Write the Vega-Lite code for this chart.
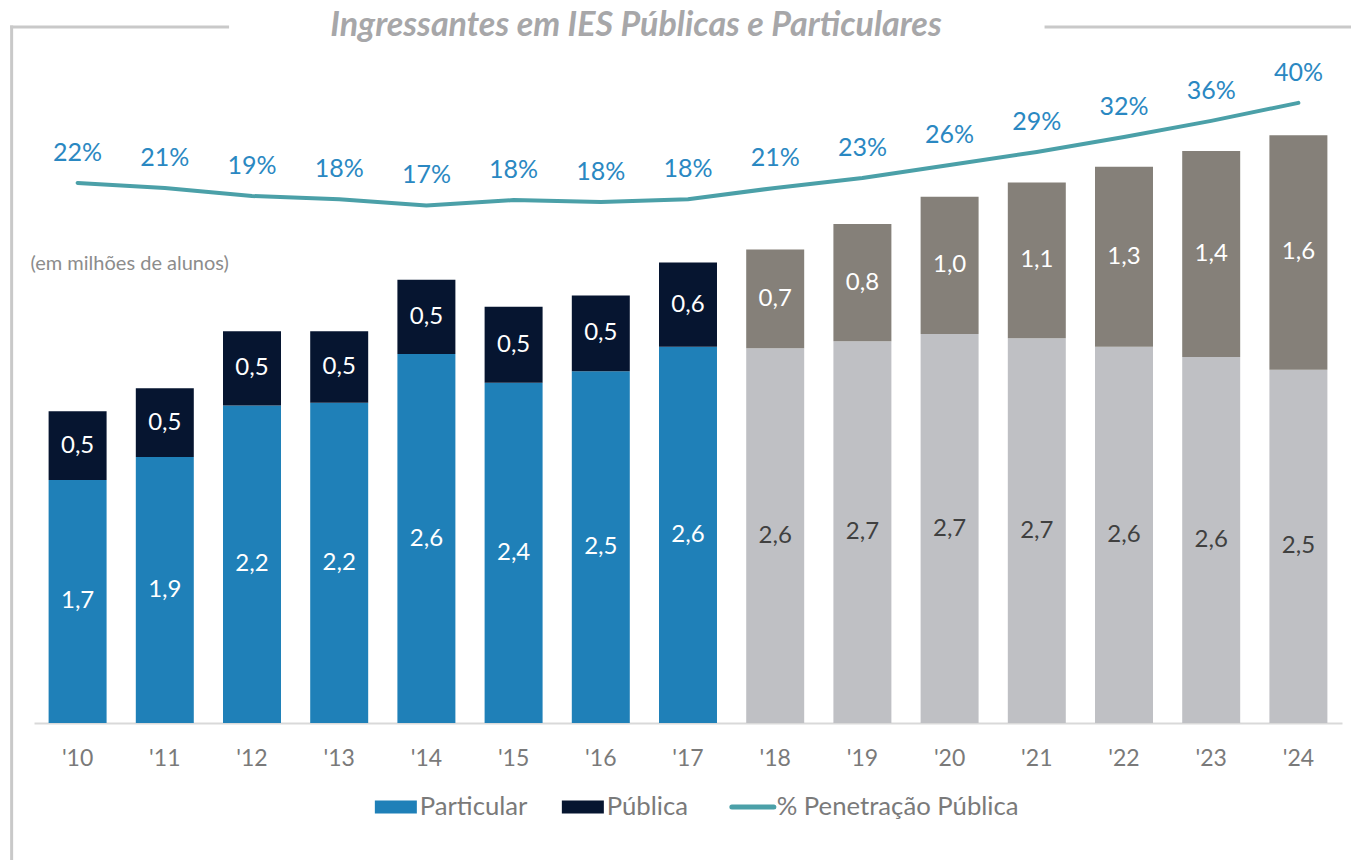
{
  "$schema": "https://vega.github.io/schema/vega-lite/v6.json",
  "autosize": {"type": "none"},
  "width": 1308,
  "height": 650,
  "padding": {"left": 34, "top": 73, "right": 9, "bottom": 137},
  "background": "#ffffff",
  "config": {
    "view": {"stroke": null},
    "font": "Lato",
    "locale": {"number": {"decimal": ",", "thousands": ".", "grouping": [3], "currency": ["R$", ""]}}
  },
  "title": {
    "text": "Ingressantes em IES Públicas e Particulares",
    "font": "Lato", "fontSize": 34, "fontWeight": "bold", "fontStyle": "italic",
    "color": "#a7a7a9", "anchor": "middle", "frame": "group", "dx": -52, "dy": 18, "offset": 0
  },
  "datasets": {
    "bars": [
      {"ano": "'10", "tipo": "Particular", "valor": 1.70, "fase": "Realizado"},
      {"ano": "'10", "tipo": "Pública", "valor": 0.48, "fase": "Realizado"},
      {"ano": "'11", "tipo": "Particular", "valor": 1.86, "fase": "Realizado"},
      {"ano": "'11", "tipo": "Pública", "valor": 0.48, "fase": "Realizado"},
      {"ano": "'12", "tipo": "Particular", "valor": 2.22, "fase": "Realizado"},
      {"ano": "'12", "tipo": "Pública", "valor": 0.52, "fase": "Realizado"},
      {"ano": "'13", "tipo": "Particular", "valor": 2.24, "fase": "Realizado"},
      {"ano": "'13", "tipo": "Pública", "valor": 0.50, "fase": "Realizado"},
      {"ano": "'14", "tipo": "Particular", "valor": 2.58, "fase": "Realizado"},
      {"ano": "'14", "tipo": "Pública", "valor": 0.52, "fase": "Realizado"},
      {"ano": "'15", "tipo": "Particular", "valor": 2.38, "fase": "Realizado"},
      {"ano": "'15", "tipo": "Pública", "valor": 0.53, "fase": "Realizado"},
      {"ano": "'16", "tipo": "Particular", "valor": 2.46, "fase": "Realizado"},
      {"ano": "'16", "tipo": "Pública", "valor": 0.53, "fase": "Realizado"},
      {"ano": "'17", "tipo": "Particular", "valor": 2.63, "fase": "Realizado"},
      {"ano": "'17", "tipo": "Pública", "valor": 0.59, "fase": "Realizado"},
      {"ano": "'18", "tipo": "Particular", "valor": 2.62, "fase": "Projeção"},
      {"ano": "'18", "tipo": "Pública", "valor": 0.69, "fase": "Projeção"},
      {"ano": "'19", "tipo": "Particular", "valor": 2.67, "fase": "Projeção"},
      {"ano": "'19", "tipo": "Pública", "valor": 0.82, "fase": "Projeção"},
      {"ano": "'20", "tipo": "Particular", "valor": 2.72, "fase": "Projeção"},
      {"ano": "'20", "tipo": "Pública", "valor": 0.96, "fase": "Projeção"},
      {"ano": "'21", "tipo": "Particular", "valor": 2.69, "fase": "Projeção"},
      {"ano": "'21", "tipo": "Pública", "valor": 1.09, "fase": "Projeção"},
      {"ano": "'22", "tipo": "Particular", "valor": 2.63, "fase": "Projeção"},
      {"ano": "'22", "tipo": "Pública", "valor": 1.26, "fase": "Projeção"},
      {"ano": "'23", "tipo": "Particular", "valor": 2.56, "fase": "Projeção"},
      {"ano": "'23", "tipo": "Pública", "valor": 1.44, "fase": "Projeção"},
      {"ano": "'24", "tipo": "Particular", "valor": 2.47, "fase": "Projeção"},
      {"ano": "'24", "tipo": "Pública", "valor": 1.64, "fase": "Projeção"}
    ],
    "pen": [
      {"ano": "'10", "pct": 0.220},
      {"ano": "'11", "pct": 0.209},
      {"ano": "'12", "pct": 0.191},
      {"ano": "'13", "pct": 0.184},
      {"ano": "'14", "pct": 0.170},
      {"ano": "'15", "pct": 0.182},
      {"ano": "'16", "pct": 0.178},
      {"ano": "'17", "pct": 0.184},
      {"ano": "'18", "pct": 0.209},
      {"ano": "'19", "pct": 0.231},
      {"ano": "'20", "pct": 0.260},
      {"ano": "'21", "pct": 0.289},
      {"ano": "'22", "pct": 0.322},
      {"ano": "'23", "pct": 0.358},
      {"ano": "'24", "pct": 0.398}
    ]
  },
  "layer": [
    {
      "data": {"values": [{}]},
      "layer": [
        {
          "mark": {"type": "rule", "color": "#c9c9c9", "strokeWidth": 3, "strokeCap": "square"},
          "encoding": {
            "x": {"datum": -0.0171, "type": "quantitative", "scale": {"domain": [0, 1], "nice": false, "zero": false}, "axis": null},
            "x2": {"datum": 0.148},
            "y": {"datum": 1.0708, "type": "quantitative", "scale": {"domain": [0, 1], "nice": false, "zero": false}, "axis": null}
          }
        },
        {
          "mark": {"type": "rule", "color": "#c9c9c9", "strokeWidth": 3},
          "encoding": {
            "x": {"datum": 0.7726, "type": "quantitative"},
            "x2": {"datum": 1.01},
            "y": {"datum": 1.0708, "type": "quantitative"}
          }
        },
        {
          "mark": {"type": "rule", "color": "#c9c9c9", "strokeWidth": 3, "strokeCap": "square"},
          "encoding": {
            "x": {"datum": -0.0171, "type": "quantitative"},
            "y": {"datum": 1.0708, "type": "quantitative"},
            "y2": {"datum": -0.22}
          }
        }
      ]
    },
    {
      "layer": [
        {
          "data": {"name": "bars"},
          "transform": [
            {"stack": "valor", "groupby": ["ano"], "sort": [{"field": "tipo", "order": "ascending"}], "as": ["v0", "v1"]},
            {"calculate": "(datum.v0 + datum.v1) / 2", "as": "mid"}
          ],
          "encoding": {
            "x": {
              "field": "ano", "type": "nominal", "title": null,
              "scale": {"paddingInner": 0.335, "paddingOuter": 0.1675},
              "axis": {
                "orient": "bottom",
                "labelAngle": 0, "labelFont": "Lato", "labelFontSize": 23, "labelColor": "#7a7a7a",
                "labelPadding": 35, "labelBaseline": "middle",
                "ticks": false, "domainColor": "#d9d9d9", "domainWidth": 2, "grid": false
              }
            }
          },
          "layer": [
            {
              "transform": [{"filter": "datum.fase === 'Realizado'"}],
              "mark": {"type": "bar"},
              "encoding": {
                "y": {
                  "field": "v1", "type": "quantitative",
                  "scale": {"domain": [0, 4.545], "nice": false, "zero": true},
                  "axis": {
                    "orient": "left",
                    "title": "(em milhões de alunos)", "titleAngle": 0, "titleAlign": "left", "titleBaseline": "middle",
                    "titleX": -4, "titleY": 190, "titleFont": "Lato", "titleFontSize": 20, "titleFontWeight": "normal",
                    "titleColor": "#8c8c8c", "labels": false, "ticks": false, "domain": false, "grid": false
                  }
                },
                "y2": {"field": "v0"},
                "color": {
                  "field": "tipo", "type": "nominal",
                  "scale": {"domain": ["Particular", "Pública", "% Penetração Pública"], "range": ["#1f80b8", "#061530", "#4ba0a8"]},
                  "legend": {
                    "orient": "none", "legendX": 349, "legendY": 721, "direction": "horizontal", "title": null,
                    "labelFont": "Lato", "labelFontSize": 25.7, "labelColor": "#7a7a7a", "labelOffset": 11, "labelLimit": 400,
                    "columnPadding": 33, "symbolSize": 1764, "symbolType": "M-1,-0.31H1V0.31H-1Z", "symbolStrokeWidth": 0,
                    "encode": {
                      "symbols": {
                        "update": {
                          "shape": {"signal": "datum.value === '% Penetração Pública' ? 'M-1,0H1' : 'M-1,-0.31H1V0.31H-1Z'"},
                          "fill": {"signal": "datum.value === '% Penetração Pública' ? 'transparent' : (datum.value === 'Particular' ? '#1f80b8' : '#061530')"},
                          "stroke": {"signal": "datum.value === '% Penetração Pública' ? '#4ba0a8' : 'transparent'"},
                          "strokeWidth": {"signal": "datum.value === '% Penetração Pública' ? 5 : 0"},
                          "strokeCap": {"value": "round"},
                          "opacity": {"value": 1}
                        }
                      }
                    }
                  }
                }
              }
            },
            {
              "transform": [{"filter": "datum.fase === 'Projeção'"}],
              "mark": {"type": "bar"},
              "encoding": {
                "y": {"field": "v1", "type": "quantitative"},
                "y2": {"field": "v0"},
                "fill": {
                  "field": "tipo", "type": "nominal",
                  "scale": {"domain": ["Particular", "Pública"], "range": ["#bfc0c4", "#858079"]},
                  "legend": null
                }
              }
            },
            {
              "mark": {"type": "text", "font": "Lato", "fontSize": 24, "baseline": "middle"},
              "encoding": {
                "y": {"field": "mid", "type": "quantitative"},
                "text": {"field": "valor", "type": "quantitative", "format": ".1f"},
                "color": {
                  "condition": {"test": "datum.tipo === 'Particular' && datum.fase === 'Projeção'", "value": "#404040"},
                  "value": "#ffffff"
                }
              }
            }
          ]
        },
        {
          "data": {"name": "pen"},
          "encoding": {
            "x": {"field": "ano", "type": "nominal"},
            "y": {
              "field": "pct", "type": "quantitative",
              "scale": {"domain": [-0.98, 0.4644], "nice": false, "zero": false},
              "axis": null
            }
          },
          "layer": [
            {
              "mark": {"type": "line", "strokeWidth": 4, "strokeCap": "round", "strokeJoin": "round"},
              "encoding": {"color": {"datum": "% Penetração Pública"}}
            },
            {
              "mark": {"type": "text", "font": "Lato", "fontSize": 25, "color": "#2a88c2", "dy": -30, "baseline": "middle"},
              "encoding": {"text": {"field": "pct", "type": "quantitative", "format": ".0%"}}
            }
          ]
        }
      ],
      "resolve": {"scale": {"y": "independent"}}
    }
  ],
  "resolve": {"scale": {"x": "independent", "y": "independent"}}
}
